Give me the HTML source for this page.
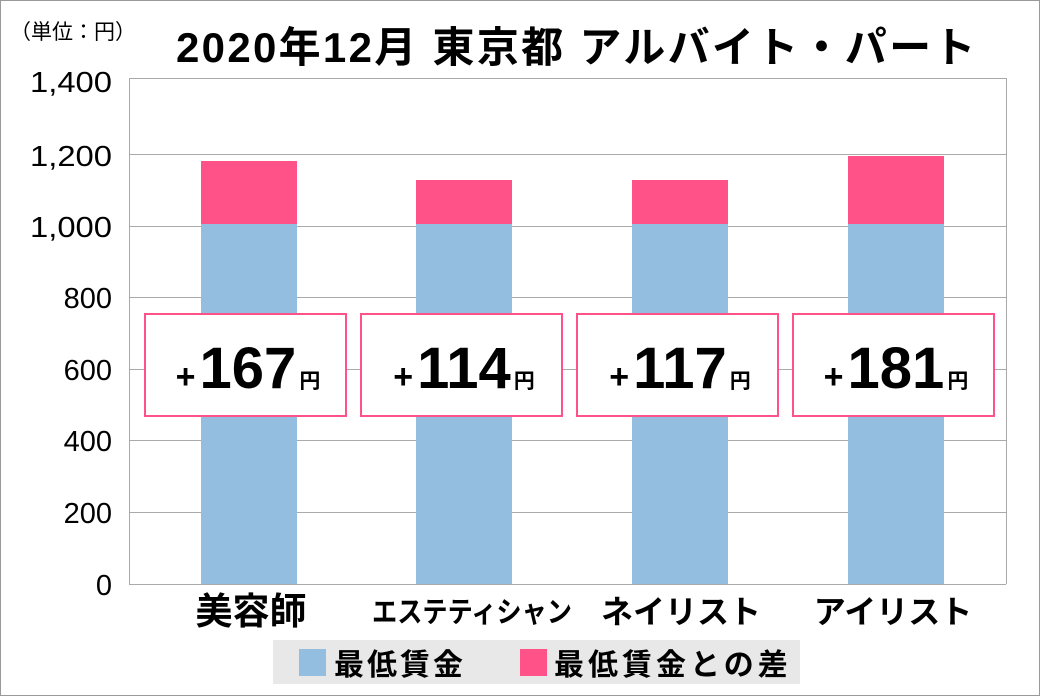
<!DOCTYPE html>
<html><head><meta charset="utf-8"><style>
body{margin:0;width:1040px;height:696px;background:#fff;overflow:hidden;font-family:"Liberation Sans","Noto Sans CJK JP",sans-serif}
.a{position:absolute}
</style></head><body>
<div class="a" style="left:0;top:0;width:1038px;height:694px;border:1px solid #999"></div>
<div class="a" style="left:10px;top:16px;font-size:21px">（単位：円）</div>
<div class="a" style="left:176px;top:14px;font-size:42px;font-weight:bold;letter-spacing:2.3px;white-space:nowrap">2020年12月 東京都 アルバイト・パート</div>
<svg class="a" style="left:0;top:0" width="1040" height="696">
<g stroke="#aaa" stroke-width="1">
<line x1="129" y1="78.5" x2="1006" y2="78.5"/>
<line x1="129" y1="154.5" x2="1006" y2="154.5"/>
<line x1="129" y1="226.5" x2="1006" y2="226.5"/>
<line x1="129" y1="297.5" x2="1006" y2="297.5"/>
<line x1="129" y1="369.5" x2="1006" y2="369.5"/>
<line x1="129" y1="440.5" x2="1006" y2="440.5"/>
<line x1="129" y1="512.5" x2="1006" y2="512.5"/>
<line x1="129" y1="584.5" x2="1006" y2="584.5"/>
<line x1="129.5" y1="78" x2="129.5" y2="584"/>
<line x1="1006.5" y1="78" x2="1006.5" y2="584"/>
</g>
<g fill="#93bedf">
<rect x="201" y="224" width="96" height="360"/><rect x="416" y="224" width="96" height="360"/>
<rect x="632" y="224" width="96" height="360"/><rect x="848" y="224" width="96" height="360"/>
</g>
<g fill="#ff5289">
<rect x="201" y="161" width="96" height="63"/><rect x="416" y="180" width="96" height="44"/>
<rect x="632" y="180" width="96" height="44"/><rect x="848" y="156" width="96" height="68"/>
</g>
<g fill="#fff" stroke="#ff5289" stroke-width="2">
<rect x="145" y="314" width="201" height="102"/><rect x="361" y="314" width="201" height="102"/>
<rect x="577" y="314" width="201" height="102"/><rect x="793" y="314" width="201" height="102"/>
</g>
<g font-family="Liberation Sans, sans-serif" font-size="29" text-anchor="end">
<text x="112" y="92" textLength="82" lengthAdjust="spacingAndGlyphs">1,400</text>
<text x="112" y="166" textLength="82" lengthAdjust="spacingAndGlyphs">1,200</text>
<text x="112" y="237" textLength="82" lengthAdjust="spacingAndGlyphs">1,000</text>
<text x="112" y="308">800</text><text x="112" y="380">600</text><text x="112" y="451">400</text>
<text x="112" y="523">200</text><text x="112" y="595">0</text>
</g>
<g font-family="Liberation Sans, Noto Sans CJK JP, sans-serif" font-weight="bold" text-anchor="middle">
<text x="248" y="388"><tspan font-size="34">+</tspan><tspan font-size="58" dx="4">167</tspan><tspan font-size="21" dx="3">円</tspan></text>
<text x="464" y="388"><tspan font-size="34">+</tspan><tspan font-size="58" dx="4">114</tspan><tspan font-size="21" dx="3">円</tspan></text>
<text x="680" y="388"><tspan font-size="34">+</tspan><tspan font-size="58" dx="4">117</tspan><tspan font-size="21" dx="3">円</tspan></text>
<text x="896" y="388"><tspan font-size="34">+</tspan><tspan font-size="58" dx="4">181</tspan><tspan font-size="21" dx="3">円</tspan></text>
<text x="251" y="624" font-size="37">美容師</text>
<text x="472" y="622" font-size="29" textLength="200" lengthAdjust="spacingAndGlyphs">エステティシャン</text>
<text x="681" y="623" font-size="32">ネイリスト</text>
<text x="893" y="623" font-size="32">アイリスト</text>
</g>
<rect x="273" y="640" width="527" height="44" fill="#e8e8e8"/>
<rect x="299" y="649" width="27" height="27" fill="#93bedf"/>
<rect x="520" y="649" width="27" height="27" fill="#ff5289"/>
<g font-family="Liberation Sans, Noto Sans CJK JP, sans-serif" font-weight="bold" font-size="30">
<text x="334" y="675" letter-spacing="3">最低賃金</text>
<text x="554" y="675" letter-spacing="4">最低賃金との差</text>
</g>
</svg>
</body></html>
